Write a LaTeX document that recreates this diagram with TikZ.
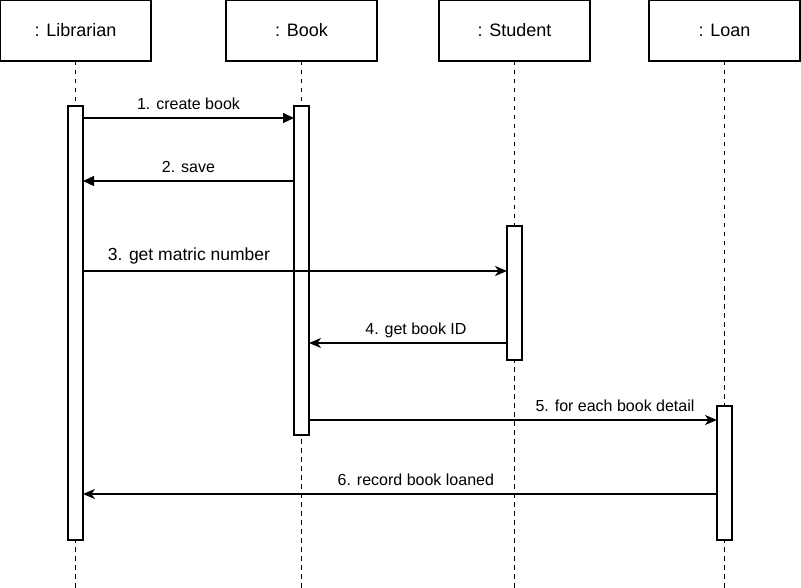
\documentclass[tikz,border=0pt]{standalone}
\usepackage{fontspec}
\setmainfont{Liberation Sans}
\usetikzlibrary{arrows.meta,positioning}
\tikzstyle{object}=[draw, line width=1.4pt, inner sep=0pt, outer sep=0pt, minimum width=151pt, minimum height=61pt, font=\fontsize{18}{21}\selectfont]
\tikzstyle{lifeline}=[line width=1.3pt, dash pattern=on 4.5pt off 4.5pt]
\tikzstyle{actbar}=[draw, fill=white, line width=1.4pt, inner sep=0pt, outer sep=0pt, minimum width=15pt]
\tikzset{%
    msg/.style={line width=1.3pt, -{Triangle[length=11pt,width=10pt]}},
    msgB/.style={line width=1.3pt, -{Stealth[length=12pt,width=10pt,inset=3.5pt]}},
    lbl/.style={anchor=south, inner sep=0pt, text depth=0pt, yshift=8pt, font=\fontsize{16}{19}\selectfont},
  }

\begin{document}
\begin{tikzpicture}[x=1pt, y=-1pt]
    \useasboundingbox (0,0) rectangle (801,588);
    \coordinate (bottom) at (0,588);
    %
    \node (lib) [object] at (75.5,30.5) {: Librarian};
    \node (book) [object] at (301.5,30.5) {: Book};
    \node (stu) [object] at (514.5,30.5) {: Student};
    \node (loan) [object] at (724.5,30.5) {: Loan};
    %
    \foreach \o in {lib,book,stu,loan}
      \draw [lifeline] (\o.south) -- (\o.south |- bottom);
    %
    \node (libbar) [actbar, minimum height=434pt] at (75.5,323) {};
    \node (bookbar) [actbar, minimum height=329pt] at (301.5,270.5) {};
    \node (stubar) [actbar, minimum height=134pt] at (514.5,293) {};
    \node (loanbar) [actbar, minimum height=134pt] at (724.5,473) {};
    %
    \coordinate (m1) at (0,118);
    \coordinate (m2) at (0,181);
    \coordinate (m3) at (0,271);
    \coordinate (m4) at (0,343);
    \coordinate (m5) at (0,420);
    \coordinate (m6) at (0,494);
    %
    \draw [msg] (libbar.east |- m1) -- node [lbl] {1. create book} (bookbar.west |- m1);
    \draw [msg] (bookbar.west |- m2) -- node [lbl] {2. save} (libbar.east |- m2);
    \draw [msgB] (libbar.east |- m3) -- node [lbl, pos=0.25, yshift=2pt, font=\fontsize{17.5}{21}\selectfont] {3. get matric number} (stubar.west |- m3);
    \draw [msgB] (stubar.west |- m4) -- node [lbl, pos=0.46] {4. get book ID} (bookbar.east |- m4);
    \draw [msgB] (bookbar.east |- m5) -- node [lbl, pos=0.75] {5. for each book detail} (loanbar.west |- m5);
    \draw [msgB] (loanbar.west |- m6) -- node [lbl, pos=0.475] {6. record book loaned} (libbar.east |- m6);
  \end{tikzpicture}
\end{document}
